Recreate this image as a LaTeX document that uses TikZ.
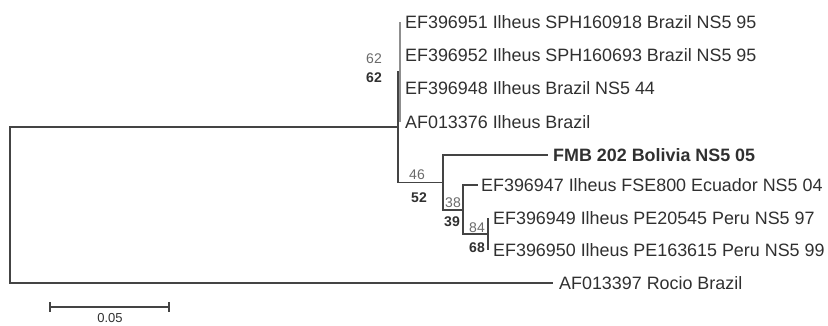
\documentclass[tikz,border=0pt]{standalone}
\usepackage{fontspec}
\setmainfont{Liberation Sans}
\usepackage{xcolor}
\usepackage{tikz}
\usetikzlibrary{positioning,calc}
\definecolor{branch}{HTML}{444444}
\definecolor{txt}{HTML}{303030}
\definecolor{boot}{HTML}{6a6a6a}

\begin{document}
\begin{tikzpicture}[x=1pt,y=-1pt,
  font=\fontsize{17.9}{20}\selectfont,
  br/.style={draw=branch,line width=1.2pt},
  brlight/.style={draw=branch!60,line width=1.1pt},
  taxon/.style={anchor=west,inner xsep=5pt,inner ysep=0pt,text=txt},
  bsg/.style={font=\fontsize{14}{15}\selectfont,text=boot,inner sep=0pt},
  bsb/.style={font=\fontsize{14}{15}\selectfont\bfseries,text=txt,inner sep=0pt}]
  \useasboundingbox (0,0) rectangle (828,326);
  % internal nodes
  \coordinate (root) at (10,205);
  \coordinate (ilhA) at (398,127);
  \coordinate (ilhB) at (400,72);
  \coordinate (clC) at (443,182.5);
  \coordinate (clD) at (463,210);
  \coordinate (clE) at (488,234);
  % taxa
  \node[taxon] (t1) at (400,22) {EF396951 Ilheus SPH160918 Brazil NS5 95};
  \node[taxon] (t2) at (400,55) {EF396952 Ilheus SPH160693 Brazil NS5 95};
  \node[taxon] (t3) at (400,88) {EF396948 Ilheus Brazil NS5 44};
  \node[taxon] (t4) at (400,122) {AF013376 Ilheus Brazil};
  \node[taxon,font=\fontsize{17.9}{20}\selectfont\bfseries] (t5) at (548,155) {FMB 202 Bolivia NS5 05};
  \node[taxon,inner xsep=3pt] (t6) at (478,185) {EF396947 Ilheus FSE800 Ecuador NS5 04};
  \node[taxon] (t7) at (488,218) {EF396949 Ilheus PE20545 Peru NS5 97};
  \node[taxon] (t8) at (488,250) {EF396950 Ilheus PE163615 Peru NS5 99};
  \node[taxon,inner xsep=6pt] (t9) at (553,283) {AF013397 Rocio Brazil};
  % branches
  \draw[br] (root) |- (ilhA);
  \draw[br] (root) |- (t9.west);
  \draw[br] (ilhA) |- (ilhB);
  \draw[br] (ilhA) |- (clC);
  \draw[brlight] (ilhB) |- (t1.west);
  \draw[brlight] (ilhB) |- (t2.west);
  \draw[brlight] (ilhB) |- (t3.west);
  \draw[brlight] (ilhB) |- (t4.west);
  \draw[br] (clC) |- (t5.west);
  \draw[br] (clC) |- (clD);
  \draw[br] (clD) |- (t6.west);
  \draw[br] (clD) |- (clE);
  \draw[br] (clE) |- (t7.west);
  \draw[br] (clE) |- (t8.west);
  % bootstrap values
  \node[bsg] (bA1) at (374,59) {62};
  \node[bsb] (bA2) at (374,78) {62};
  \node[bsg] (bC1) at (417,175) {46};
  \node[bsb] (bC2) at (419,198) {52};
  \node[bsg] (bD1) at (453,203) {38};
  \node[bsb] (bD2) at (452,222) {39};
  \node[bsg] (bE1) at (477,228) {84};
  \node[bsb] (bE2) at (477,248) {68};
  % scale bar
  \coordinate (sbL) at (50,307);
  \coordinate (sbR) at (169,307);
  \draw[br] (sbL) -- (sbR);
  \draw[br] ($(sbL)+(0,-5)$) -- ($(sbL)+(0,5)$);
  \draw[br] ($(sbR)+(0,-5)$) -- ($(sbR)+(0,5)$);
  \node[bsg,text=txt,font=\fontsize{13}{14}\selectfont] (sbT) at (110,318.5) {0.05};
\end{tikzpicture}
\end{document}
